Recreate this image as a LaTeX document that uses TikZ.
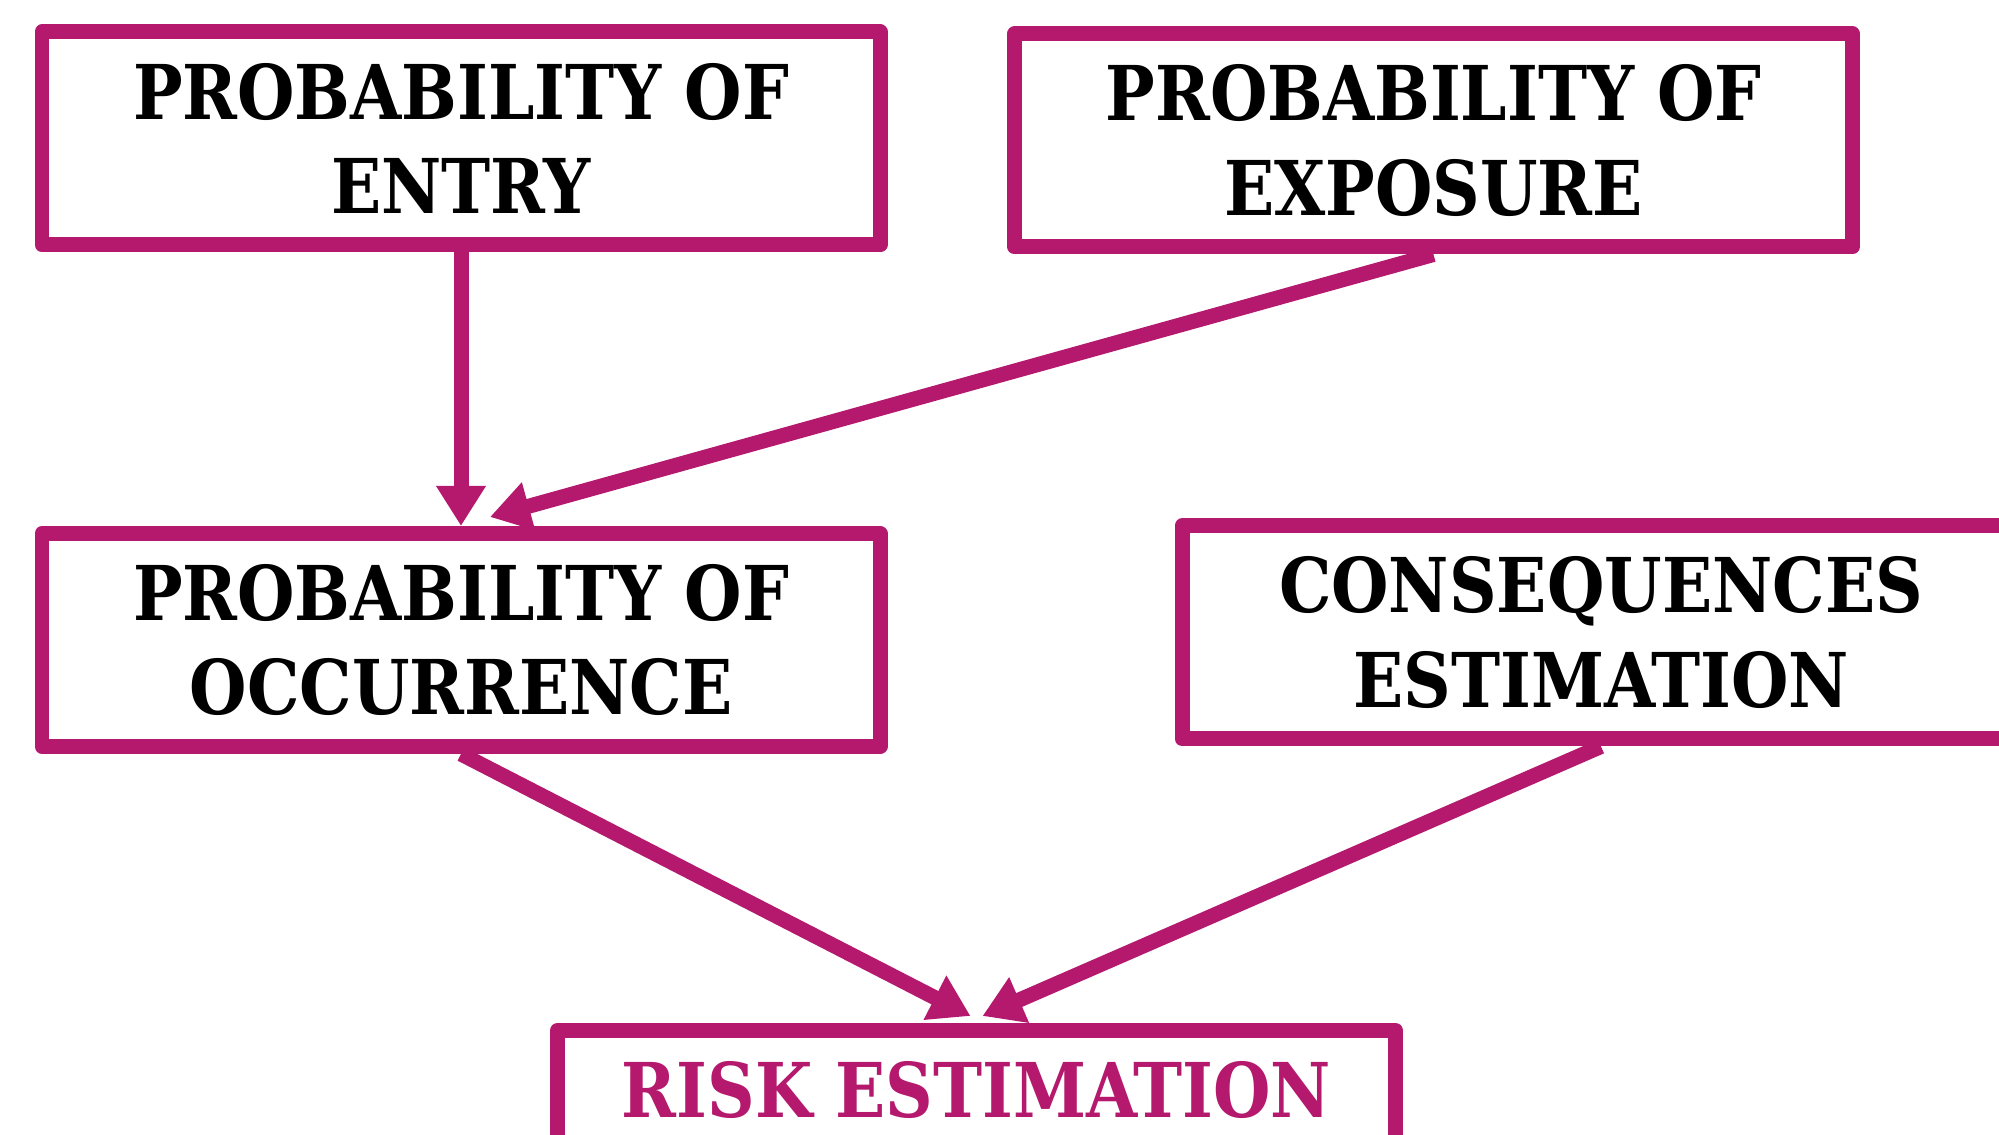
\documentclass[tikz,border=0pt]{standalone}
\usepackage{fontspec}
\newfontfamily\boxfont{DejaVu Serif Condensed}[FakeStretch=0.97]
\usepackage{xcolor}
\usetikzlibrary{arrows.meta}
\definecolor{riskpink}{RGB}{181,25,110}
\tikzstyle{factor}=[draw=riskpink,line width=0.15cm,line join=round,fill=white,
    minimum width=8.38cm,minimum height=2.13cm,inner sep=0pt,align=center,
    font=\boxfont\bfseries\fontsize{21.5}{27}\selectfont]
\tikzstyle{result}=[factor,text=riskpink,text height=0.87cm,text depth=1.26cm,anchor=north]
\tikzstyle{flow}=[draw=riskpink,line width=0.15cm,-{Triangle[width=0.47cm,length=0.40cm]}]

\begin{document}
\begin{tikzpicture}
    \useasboundingbox (0,0) rectangle (19.99,-11.35);
    \clip (0,0) rectangle (19.99,-11.35);

    % Factor boxes
    \foreach \pos/\name/\words in {{(4.61,-1.385)/entry/{PROBABILITY OF\\ENTRY}},
                                   {(14.335,-1.405)/expo/{PROBABILITY OF\\EXPOSURE}},
                                   {(4.61,-6.40)/occur/{PROBABILITY OF\\OCCURRENCE}},
                                   {(16.01,-6.325)/conseq/{CONSEQUENCES\\ESTIMATION}}}
        \node[factor] (\name) at \pos {\words};

    % Final box
    \node[result] (risk) at (9.765,-10.23) {RISK ESTIMATION};

    % Links
    \path[flow] (entry.south) -- (occur.north);
    \path[flow] (expo.south) -- ([xshift=0.29cm,yshift=0.09cm]occur.north);
    \path[flow] (occur.south) -- ([xshift=-0.06cm,yshift=0.07cm]risk.north);
    \path[flow] (conseq.south) -- ([xshift=0.06cm,yshift=0.07cm]risk.north);

\end{tikzpicture}
\end{document}
